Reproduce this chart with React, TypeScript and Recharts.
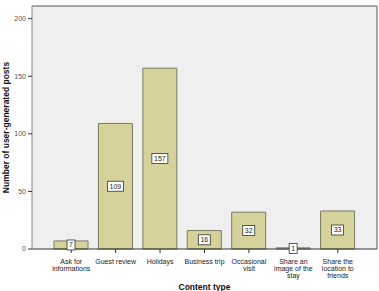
import { Bar, BarChart, CartesianGrid, LabelList, XAxis, YAxis } from "recharts";

const categories = [
  "Ask for informations",
  "Guest review",
  "Holidays",
  "Business trip",
  "Occasional visit",
  "Share an image of the stay",
  "Share the location to friends",
];
const posts = [7, 109, 157, 16, 32, 1, 33];
const yTicks = [0, 50, 100, 150, 200];
const yMax = 211;

// wrapped tick labels, as SPSS draws them
const tickLines: Record<string, string[]> = {
  "Ask for informations": ["Ask for", "informations"],
  "Guest review": ["Guest review"],
  Holidays: ["Holidays"],
  "Business trip": ["Business trip"],
  "Occasional visit": ["Occasional", "visit"],
  "Share an image of the stay": ["Share an", "image of the", "stay"],
  "Share the location to friends": ["Share the", "location to", "friends"],
};

const data = categories.map((name, i) => ({ name, posts: posts[i] }));

const font = "'Liberation Sans', Arial, sans-serif";

function CategoryTick(props: any) {
  const { x, y, payload } = props;
  const lines = tickLines[payload.value] ?? [payload.value];
  return (
    <g transform={`translate(${x},${y})`}>
      {lines.map((l, i) => (
        <text
          key={i}
          x={0}
          y={9 + i * 7}
          textAnchor="middle"
          fontSize={7}
          fill="#222"
          fontFamily={font}
        >
          {l}
        </text>
      ))}
    </g>
  );
}

function ValueBox(props: any) {
  const { x, y, width, height, value } = props;
  const cx = x + width / 2;
  const cy = y + height / 2;
  const w = String(value).length * 4 + 4;
  return (
    <g>
      <rect x={cx - w / 2} y={cy - 5} width={w} height={10} fill="#fff" stroke="#333" strokeWidth={0.8} />
      <text x={cx} y={cy + 2.5} textAnchor="middle" fontSize={7} fill="#222" fontFamily={font}>
        {value}
      </text>
    </g>
  );
}

function YTitle(props: any) {
  const { viewBox } = props;
  const cy = viewBox.y + viewBox.height / 2;
  return (
    <text
      x={9}
      y={cy}
      transform={`rotate(-90, 9, ${cy})`}
      textAnchor="middle"
      fontSize={8.5}
      fontWeight="bold"
      fill="#111"
      fontFamily={font}
    >
      Number of user-generated posts
    </text>
  );
}

export default function App() {
  return (
    <div style={{ position: "absolute", left: 0, top: 0, background: "#fff" }}>
      <BarChart
        width={379}
        height={291}
        data={data}
        margin={{ top: 5, right: 0, left: 0, bottom: 0 }}
      >
        <CartesianGrid horizontal={false} vertical={false} fill="#efefef" />
        <XAxis
          xAxisId="top"
          orientation="top"
          dataKey="name"
          height={1}
          tick={false}
          tickLine={false}
          axisLine={{ stroke: "#8c8c8c", strokeWidth: 1.5 }}
        />
        <YAxis
          yAxisId="right"
          orientation="right"
          width={2}
          tick={false}
          tickLine={false}
          axisLine={{ stroke: "#8c8c8c", strokeWidth: 1.5 }}
        />
        <XAxis
          dataKey="name"
          interval={0}
          height={42}
          padding={{ left: 17, right: 17 }}
          tick={<CategoryTick />}
          tickLine={{ stroke: "#333" }}
          tickSize={4}
          axisLine={{ stroke: "#333" }}
          label={{
            value: "Content type",
            position: "insideBottom",
            offset: 1,
            fontSize: 8.5,
            fontWeight: "bold",
            fill: "#111",
            fontFamily: font,
          }}
        />
        <YAxis
          domain={[0, yMax]}
          ticks={yTicks}
          width={32}
          tickSize={4}
          tick={{ fontSize: 7, fill: "#555", fontFamily: font }}
          tickLine={{ stroke: "#333" }}
          axisLine={{ stroke: "#888" }}
          label={<YTitle />}
        />
        <Bar
          dataKey="posts"
          barSize={34}
          fill="#d5d39b"
          stroke="#7a7a5e"
          strokeWidth={1}
          isAnimationActive={false}
        >
          <LabelList dataKey="posts" content={<ValueBox />} />
        </Bar>
      </BarChart>
    </div>
  );
}
